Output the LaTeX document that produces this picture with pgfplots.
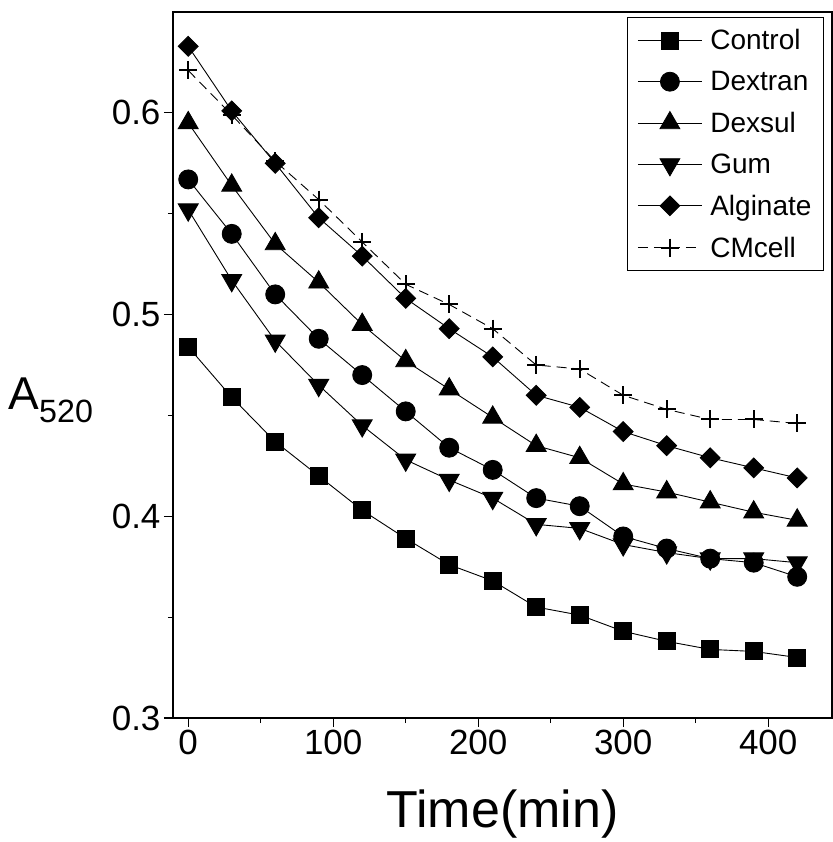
\documentclass[border=0pt]{standalone}
\usepackage{fontspec}
\setmainfont{Liberation Sans}
\usepackage{pgfplots}
\usepackage{pgfplotstable}
\pgfplotsset{compat=1.18}
\usetikzlibrary{calc}

\pgfplotstableread{
t control dextran dexsul gum alginate cmcell
0   0.484 0.567 0.595 0.552 0.633 0.621
30  0.459 0.540 0.564 0.517 0.601 0.599
60  0.437 0.510 0.535 0.487 0.575 0.576
90  0.420 0.488 0.516 0.465 0.548 0.557
120 0.403 0.470 0.495 0.445 0.529 0.536
150 0.389 0.452 0.477 0.428 0.508 0.515
180 0.376 0.434 0.463 0.418 0.493 0.505
210 0.368 0.423 0.449 0.409 0.479 0.493
240 0.355 0.409 0.435 0.396 0.460 0.475
270 0.351 0.405 0.429 0.394 0.454 0.473
300 0.343 0.390 0.416 0.386 0.442 0.460
330 0.338 0.384 0.412 0.382 0.435 0.453
360 0.334 0.379 0.407 0.379 0.429 0.448
390 0.333 0.377 0.402 0.379 0.424 0.448
420 0.330 0.370 0.398 0.377 0.419 0.446
}\datatable

\begin{document}
\begin{tikzpicture}
\begin{axis}[
  scale only axis, width=659pt, height=706pt,
  xmin=-10.5, xmax=444, ymin=0.3, ymax=0.65,
  xtick={0,100,200,300,400}, ytick={0.3,0.4,0.5,0.6},
  minor tick num=1,
  tick align=outside, xtick pos=bottom, ytick pos=left,
  major tick length=9pt, minor tick length=5pt,
  axis line style={line width=1.6pt},
  every tick/.style={black, line width=1.2pt},
  tick label style={font=\fontsize{35}{35}\selectfont},
  /pgf/number format/assume math mode=true,
  yticklabel style={/pgf/number format/fixed, /pgf/number format/precision=1, /pgf/number format/fixed zerofill},
  xlabel={Time(min)},
  xlabel style={font=\fontsize{52}{52}\selectfont, at={(rel axis cs:0.5,0)}, anchor=north, yshift=-68pt},
  ylabel={A\textsubscript{520}},
  ylabel style={font=\fontsize{46}{46}\selectfont, rotate=-90, at={(rel axis cs:0,0.45)}, anchor=center, xshift=-122pt},
  legend style={at={(rel axis cs:0.988,0.993)}, anchor=north east,
    font=\fontsize{28}{28}\selectfont, draw=black, line width=1.2pt,
    row sep=16pt, column sep=6pt, inner ysep=10pt, inner xsep=10pt},
  legend cell align=left,
  legend image code/.code={\draw[mark repeat=2,mark phase=2,line width=0.8pt] plot coordinates {(0pt,0pt) (32pt,0pt) (64pt,0pt)};},
  every axis plot/.append style={black, line width=0.9pt},
]
\addplot[mark=square*, mark size=8.5pt] table[x=t,y=control] {\datatable};
\addlegendentry{Control}
\addplot[mark=*, mark size=9.5pt] table[x=t,y=dextran] {\datatable};
\addlegendentry{Dextran}
\addplot[mark=triangle*, mark size=11.5pt] table[x=t,y=dexsul] {\datatable};
\addlegendentry{Dexsul}
\addplot[mark=triangle*, mark size=11.5pt, mark options={rotate=180}] table[x=t,y=gum] {\datatable};
\addlegendentry{Gum}
\addplot[mark=square*, mark size=7pt, mark options={rotate=45}] table[x=t,y=alginate] {\datatable};
\addlegendentry{Alginate}
\addplot[dash pattern=on 10pt off 6pt, mark=+, mark size=9pt, mark options={solid, line width=2pt}] table[x=t,y=cmcell] {\datatable};
\addlegendentry{CMcell}
\end{axis}
\pgfresetboundingbox
\path[use as bounding box] ($(current axis.south west)+(-173pt,-124pt)$) rectangle ($(current axis.north east)+(1pt,12pt)$);
\end{tikzpicture}
\end{document}
